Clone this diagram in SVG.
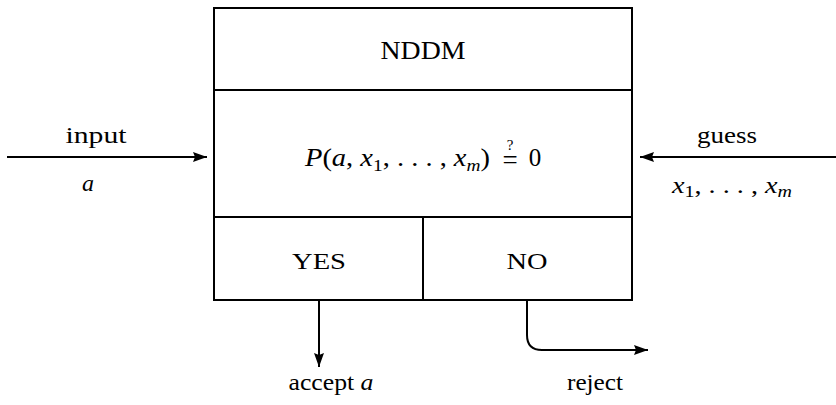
<svg xmlns="http://www.w3.org/2000/svg" width="836" height="405" viewBox="0 0 836 405" font-family="Liberation Serif, Times New Roman, serif">
<defs>
<style>
.box{fill:none;stroke:#000;stroke-width:2}
.ln{fill:none;stroke:#000;stroke-width:2}
.i{font-style:italic}
</style>
<marker id="ah" viewBox="0 0 14 10" refX="14" refY="5" markerWidth="14" markerHeight="10" markerUnits="userSpaceOnUse" orient="auto">
<path d="M0,0 L14,5 L0,10 L2,5 z" fill="#000"/>
</marker>
</defs>
<g id="nddm">
<rect class="box" x="214" y="8" width="418" height="82"/>
<text x="423" y="59" font-family="Liberation Serif, serif" font-size="25" text-anchor="middle" textLength="85" lengthAdjust="spacingAndGlyphs">NDDM</text>
</g>
<g id="test">
<rect class="box" x="214" y="90" width="418" height="127"/>
<text x="305" y="166" font-family="Liberation Serif, serif" font-size="25" textLength="185" lengthAdjust="spacingAndGlyphs"><tspan class="i">P</tspan>(<tspan class="i">a</tspan>, <tspan class="i">x</tspan><tspan font-size="17" dy="5">1</tspan><tspan dy="-5">, . . . , </tspan><tspan class="i">x</tspan><tspan class="i" font-size="17" dy="5">m</tspan><tspan dy="-5">)</tspan></text>
<text x="510" y="169" font-family="Liberation Serif, serif" text-anchor="middle" font-size="27">=</text>
<text x="510" y="150" font-family="Liberation Serif, serif" text-anchor="middle" font-size="15">?</text>
<text x="535" y="166" font-family="Liberation Serif, serif" text-anchor="middle" font-size="25">0</text>
</g>
<g id="yes">
<rect class="box" x="214" y="217" width="209" height="83"/>
<text x="319" y="269" font-family="Liberation Serif, serif" font-size="24" text-anchor="middle" textLength="54" lengthAdjust="spacingAndGlyphs">YES</text>
</g>
<g id="no">
<rect class="box" x="423" y="217" width="209" height="83"/>
<text x="527" y="269" font-family="Liberation Serif, serif" font-size="24" text-anchor="middle" textLength="41" lengthAdjust="spacingAndGlyphs">NO</text>
</g>
<g id="labels" font-family="Liberation Serif, serif" font-size="24">
<text x="96" y="143" text-anchor="middle" textLength="61" lengthAdjust="spacingAndGlyphs">input</text>
<text class="i" x="88" y="191" text-anchor="middle">a</text>
<text x="727" y="143" text-anchor="middle" textLength="60" lengthAdjust="spacingAndGlyphs">guess</text>
<text x="732" y="193" text-anchor="middle" textLength="120" lengthAdjust="spacingAndGlyphs"><tspan class="i">x</tspan><tspan font-size="17" dy="4">1</tspan><tspan dy="-4">, . . . , </tspan><tspan class="i">x</tspan><tspan class="i" font-size="17" dy="4">m</tspan></text>
<text x="331" y="390" text-anchor="middle" textLength="85" lengthAdjust="spacingAndGlyphs">accept <tspan class="i">a</tspan></text>
<text x="595" y="390" text-anchor="middle" textLength="56" lengthAdjust="spacingAndGlyphs">reject</text>
</g>
<g id="connectors">
<line class="ln" x1="7" y1="157" x2="207" y2="157" marker-end="url(#ah)"/>
<line class="ln" x1="836" y1="157" x2="640" y2="157" marker-end="url(#ah)"/>
<line class="ln" x1="319" y1="301" x2="319" y2="367" marker-end="url(#ah)"/>
<path class="ln" d="M527,301 L527,335 Q527,350 542,350 L648,350" marker-end="url(#ah)"/>
</g>
</svg>
